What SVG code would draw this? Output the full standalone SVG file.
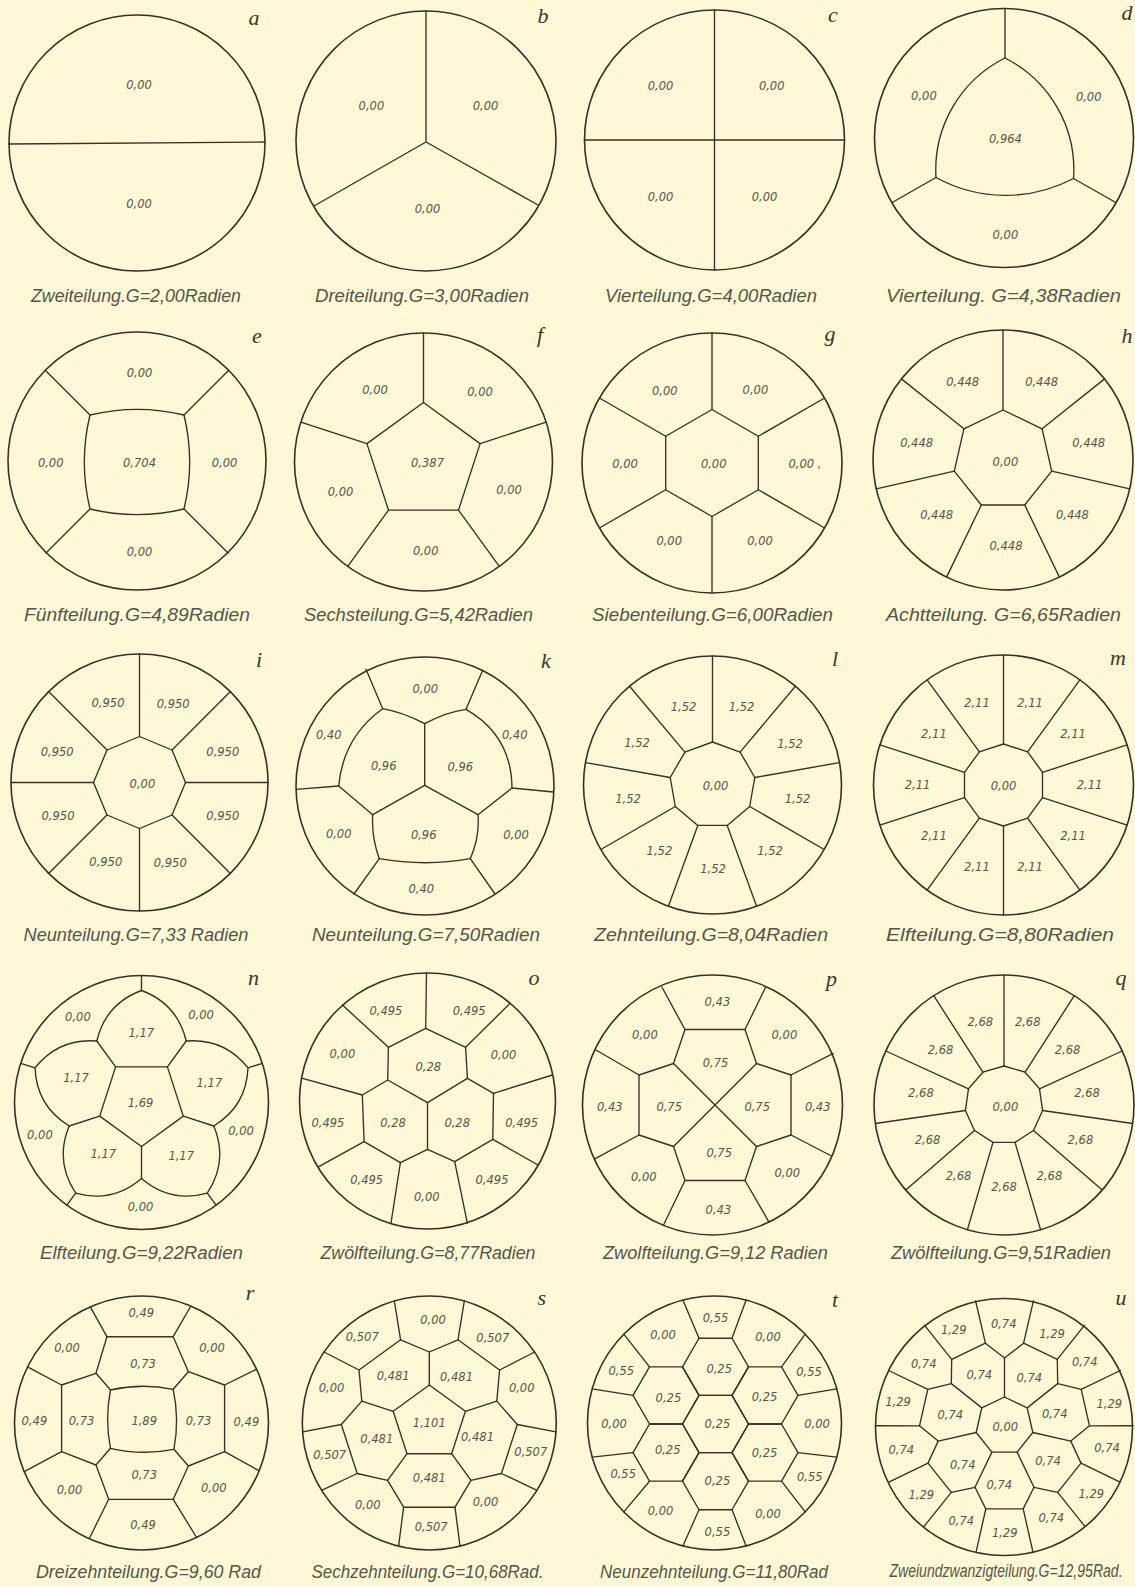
<svg xmlns="http://www.w3.org/2000/svg" width="1135" height="1587" viewBox="0 0 1135 1587">
<style>
.bg{fill:#fcf8d5}
.c{fill:none;stroke:#35312b;stroke-width:1.6}
.l{fill:none;stroke:#35312b;stroke-width:1.35;stroke-linejoin:round;stroke-linecap:round}
.n{font-family:"DejaVu Sans","Liberation Sans",sans-serif;font-style:italic;font-size:11.5px;fill:#5a564d;text-anchor:middle;dominant-baseline:central}
.cap{font-family:"Liberation Sans","DejaVu Sans",sans-serif;font-style:italic;font-size:19px;fill:#58544b;text-anchor:middle}
.let{font-family:"Liberation Serif","DejaVu Serif",serif;font-style:italic;font-size:22px;fill:#3a362f;text-anchor:middle}
</style>
<defs><polygon id="hex" points="33,0 16.5,28.58 -16.5,28.58 -33,0 -16.5,-28.58 16.5,-28.58"/></defs>
<rect class="bg" x="0" y="0" width="1135" height="1587"/>

<g id="fig-a">
<g transform="translate(137,143)"><circle class="c" r="128"/><path class="l" d="M-128,1 L128,-1"/></g>
<text class="n" x="139" y="85">0,00</text><text class="n" x="139" y="204">0,00</text>
<text class="let" x="254" y="25">a</text>
<text class="cap" x="136" y="302" textLength="210" lengthAdjust="spacingAndGlyphs">Zweiteilung.G=2,00Radien</text>
</g>

<g id="fig-b">
<g transform="translate(426,141)"><circle class="c" r="130"/><path class="l" d="M0,1 V-130 M0,1 L-112,65 M0,1 L112,64"/></g>
<text class="n" x="371.4" y="106">0,00</text><text class="n" x="485.5" y="106">0,00</text><text class="n" x="427.5" y="209">0,00</text>
<text class="let" x="543" y="22.5">b</text>
<text class="cap" x="422" y="302" textLength="214" lengthAdjust="spacingAndGlyphs">Dreiteilung.G=3,00Radien</text>
</g>

<g id="fig-c">
<g transform="translate(714.5,140)"><circle class="c" r="130"/><path class="l" d="M0,-130 V130 M-130,0 H130"/></g>
<text class="n" x="660.5" y="86">0,00</text><text class="n" x="771.7" y="86">0,00</text><text class="n" x="660.5" y="196.7">0,00</text><text class="n" x="764.5" y="197.3">0,00</text>
<text class="let" x="833" y="22">c</text>
<text class="cap" x="711" y="302" textLength="212" lengthAdjust="spacingAndGlyphs">Vierteilung.G=4,00Radien</text>
</g>

<g id="fig-d">
<g transform="translate(1004,138)"><circle class="c" r="129.5"/>
<path class="l" d="M1,-80 A125,125 0 0 0 -68,39.5 A145,145 0 0 0 69.5,40.5 A125,125 0 0 0 1,-80 Z"/>
<path class="l" d="M1,-80 V-129.5 M-68,39.5 L-112.2,64.75 M69.5,40.5 L112.2,64.75"/></g>
<text class="n" x="923.9" y="96">0,00</text><text class="n" x="1088.7" y="96.7">0,00</text><text class="n" x="1005.4" y="139.3">0,964</text><text class="n" x="1005.4" y="235">0,00</text>
<text class="let" x="1127" y="19.5">d</text>
<text class="cap" x="1003.5" y="302" textLength="235" lengthAdjust="spacingAndGlyphs">Vierteilung. G=4,38Radien</text>
</g>

<g id="fig-e">
<g transform="translate(137,461)"><circle class="c" r="129"/>
<path class="l" d="M-47,-46 A200,200 0 0 1 47,-46 A200,200 0 0 1 47,48 A200,200 0 0 1 -47,48 A200,200 0 0 1 -47,-46 Z"/>
<path class="l" d="M-47,-46 L-91.5,-90.5 M47,-46 L91.5,-90.5 M47,48 L91,92 M-47,48 L-91,92"/></g>
<text class="n" x="139.5" y="372.7">0,00</text><text class="n" x="50.7" y="463.3">0,00</text><text class="n" x="139.5" y="463.3">0,704</text><text class="n" x="224.6" y="463.3">0,00</text><text class="n" x="139.5" y="552.3">0,00</text>
<text class="let" x="257" y="343">e</text>
<text class="cap" x="137" y="621" textLength="226" lengthAdjust="spacingAndGlyphs">Fünfteilung.G=4,89Radien</text>
</g>

<g id="fig-f">
<g transform="translate(423.5,462)"><circle class="c" r="129"/>
<path class="l" d="M0,-59.5 L56.6,-18.4 L35,48.1 L-35,48.1 L-56.6,-18.4 Z"/>
<path class="l" d="M0,-59.5 V-129 M56.6,-18.4 L122.7,-39.9 M35,48.1 L75.8,104.4 M-35,48.1 L-75.8,104.4 M-56.6,-18.4 L-122.7,-39.9"/></g>
<text class="n" x="375" y="390">0,00</text><text class="n" x="480" y="391.7">0,00</text><text class="n" x="427.5" y="463.3">0,387</text><text class="n" x="340.6" y="491.7">0,00</text><text class="n" x="509" y="490">0,00</text><text class="n" x="425.7" y="550.7">0,00</text>
<text class="let" x="540" y="342">f</text>
<text class="cap" x="418.5" y="621" textLength="229" lengthAdjust="spacingAndGlyphs">Sechsteilung.G=5,42Radien</text>
</g>

<g id="fig-g">
<g transform="translate(712,463)"><circle class="c" r="130"/>
<path class="l" d="M0,-53.5 L46.3,-26.75 L46.3,26.75 L0,53.5 L-46.3,26.75 L-46.3,-26.75 Z"/>
<path class="l" d="M0,-53.5 V-130 M46.3,-26.75 L112.6,-65 M46.3,26.75 L112.6,65 M0,53.5 V130 M-46.3,26.75 L-112.6,65 M-46.3,-26.75 L-112.6,-65"/></g>
<text class="n" x="664.8" y="390.7">0,00</text><text class="n" x="755.4" y="390">0,00</text><text class="n" x="625" y="464">0,00</text><text class="n" x="713.7" y="464">0,00</text><text class="n" x="805" y="464">0,00 ,</text><text class="n" x="669.2" y="540.7">0,00</text><text class="n" x="760" y="540.7">0,00</text>
<text class="let" x="830" y="340.5">g</text>
<text class="cap" x="712.5" y="621" textLength="241" lengthAdjust="spacingAndGlyphs">Siebenteilung.G=6,00Radien</text>
</g>

<g id="fig-h">
<g transform="translate(1003,460)"><circle class="c" r="130"/>
<path class="l" d="M0,-50 L39.1,-31.2 L48.7,11.1 L21.7,45 L-21.7,45 L-48.7,11.1 L-39.1,-31.2 Z"/>
<path class="l" d="M0,-50 V-130 M39.1,-31.2 L101.6,-81.1 M48.7,11.1 L126.7,28.9 M21.7,45 L56.4,117.1 M-21.7,45 L-56.4,117.1 M-48.7,11.1 L-126.7,28.9 M-39.1,-31.2 L-101.6,-81.1"/></g>
<text class="n" x="962.7" y="381.7">0,448</text><text class="n" x="1041.6" y="381.7">0,448</text><text class="n" x="916.6" y="443.3">0,448</text><text class="n" x="1088.7" y="442.7">0,448</text><text class="n" x="1005.4" y="461.7">0,00</text><text class="n" x="936.6" y="515">0,448</text><text class="n" x="1072.4" y="515">0,448</text><text class="n" x="1006" y="546">0,448</text>
<text class="let" x="1127" y="342.5">h</text>
<text class="cap" x="1003.5" y="621" textLength="235" lengthAdjust="spacingAndGlyphs">Achtteilung. G=6,65Radien</text>
</g>

<g id="fig-i">
<g transform="translate(139.5,782.5)"><circle class="c" r="128.5"/>
<path class="l" d="M46,0 L32.5,32.5 L0,46 L-32.5,32.5 L-46,0 L-32.5,-32.5 L0,-46 L32.5,-32.5 Z"/>
<path class="l" d="M46,0 H128.5 M32.5,32.5 L90.9,90.9 M0,46 V128.5 M-32.5,32.5 L-90.9,90.9 M-46,0 H-128.5 M-32.5,-32.5 L-90.9,-90.9 M0,-46 V-128.5 M32.5,-32.5 L90.9,-90.9"/></g>
<text class="n" x="108" y="703.3">0,950</text><text class="n" x="173.2" y="704">0,950</text><text class="n" x="57.2" y="751.7">0,950</text><text class="n" x="222.8" y="751.7">0,950</text><text class="n" x="142.4" y="784">0,00</text><text class="n" x="58" y="815.7">0,950</text><text class="n" x="222.8" y="815.7">0,950</text><text class="n" x="105.8" y="861.7">0,950</text><text class="n" x="170.3" y="862.7">0,950</text>
<text class="let" x="259" y="667">i</text>
<text class="cap" x="136" y="941" textLength="225" lengthAdjust="spacingAndGlyphs">Neunteilung.G=7,33 Radien</text>
</g>

<g id="fig-k">
<circle class="c" cx="425" cy="786" r="129"/>
<path class="l" d="M424.7,785.3 V723.7 M424.7,785.3 L372.7,814.7 M424.7,785.3 L478,814.7"/>
<path class="l" d="M382.7,708.7 Q402,712 424.7,723.7 Q446,712 466,709.3"/>
<path class="l" d="M382.7,708.7 Q343.3,736.7 338.7,786 L372.7,814.7 Q371.4,837.3 379.3,858.7 Q425.8,866.7 470.3,858.7 Q479.8,837.3 478,814.7 L512,788 Q511.6,735.3 466,709.3"/>
<path class="l" d="M382.7,708.7 L366,669.3 M466,709.3 L482.7,670.3 M338.7,786 L296,789.3 M512,788 L553.5,792 M379.3,858.7 L354,894 M470.3,858.7 L495,894"/>
<text class="n" x="425.3" y="689.3">0,00</text><text class="n" x="328.7" y="734.7">0,40</text><text class="n" x="514.7" y="735.3">0,40</text><text class="n" x="383.7" y="766">0,96</text><text class="n" x="460.3" y="767">0,96</text><text class="n" x="338.7" y="833.7">0,00</text><text class="n" x="423.7" y="834.7">0,96</text><text class="n" x="516" y="834.7">0,00</text><text class="n" x="421.3" y="889.3">0,40</text>
<text class="let" x="546" y="667.5">k</text>
<text class="cap" x="426" y="941" textLength="228" lengthAdjust="spacingAndGlyphs">Neunteilung.G=7,50Radien</text>
</g>

<g id="fig-l">
<g transform="translate(712.5,785)"><circle class="c" r="129"/>
<path class="l" d="M0,-43 L27.6,-32.9 L42.3,-7.5 L37.2,21.5 L14.7,40.4 L-14.7,40.4 L-37.2,21.5 L-42.3,-7.5 L-27.6,-32.9 Z"/>
<path class="l" d="M0,-43 V-129 M27.6,-32.9 L82.9,-98.8 M42.3,-7.5 L127,-22.4 M37.2,21.5 L111.7,64.5 M14.7,40.4 L44.1,121.2 M-14.7,40.4 L-44.1,121.2 M-37.2,21.5 L-111.7,64.5 M-42.3,-7.5 L-127,-22.4 M-27.6,-32.9 L-82.9,-98.8"/></g>
<text class="n" x="683.5" y="706.5">1,52</text><text class="n" x="741.5" y="706.5">1,52</text><text class="n" x="637" y="743.3">1,52</text><text class="n" x="790" y="744">1,52</text><text class="n" x="628" y="799.3">1,52</text><text class="n" x="797.5" y="798.5">1,52</text><text class="n" x="659.4" y="851">1,52</text><text class="n" x="770" y="851">1,52</text><text class="n" x="713" y="869.3">1,52</text><text class="n" x="715.6" y="785.7">0,00</text>
<text class="let" x="835" y="665.5">l</text>
<text class="cap" x="711" y="941" textLength="234" lengthAdjust="spacingAndGlyphs">Zehnteilung.G=8,04Radien</text>
</g>

<g id="fig-m">
<g transform="translate(1003.5,785)"><circle class="c" r="130"/>
<path class="l" d="M0,-41 L24.1,-33.2 L39,-12.7 L39,12.7 L24.1,33.2 L0,41 L-24.1,33.2 L-39,12.7 L-39,-12.7 L-24.1,-33.2 Z"/>
<path class="l" d="M0,-41 V-130 M24.1,-33.2 L76.4,-105.2 M39,-12.7 L123.6,-40.2 M39,12.7 L123.6,40.2 M24.1,33.2 L76.4,105.2 M0,41 V130 M-24.1,33.2 L-76.4,105.2 M-39,12.7 L-123.6,40.2 M-39,-12.7 L-123.6,-40.2 M-24.1,-33.2 L-76.4,-105.2"/></g>
<text class="n" x="1030.1" y="703.2">2,11</text><text class="n" x="1073.1" y="734.4">2,11</text><text class="n" x="1089.5" y="785">2,11</text><text class="n" x="1073.1" y="835.6">2,11</text><text class="n" x="1030.1" y="866.8">2,11</text><text class="n" x="976.9" y="866.8">2,11</text><text class="n" x="933.9" y="835.6">2,11</text><text class="n" x="917.5" y="785">2,11</text><text class="n" x="933.9" y="734.4">2,11</text><text class="n" x="976.9" y="703.2">2,11</text><text class="n" x="1003.5" y="786">0,00</text>
<text class="let" x="1118" y="665">m</text>
<text class="cap" x="1000" y="941" textLength="228" lengthAdjust="spacingAndGlyphs">Elfteilung.G=8,80Radien</text>
</g>

<g id="fig-n">
<g transform="translate(141.5,1102.5)"><circle class="c" r="127"/>
<path class="l" d="M-25.9,-35.6 L25.9,-35.6 L41.8,13.6 L0,44 L-41.8,13.6 Z"/>
<path class="l" d="M-25.9,-35.6 L-44.7,-61.5 M25.9,-35.6 L44.7,-61.5 M41.8,13.6 L72.3,23.5 M0,44 V76 M-41.8,13.6 L-72.3,23.5"/>
<path class="l" d="M0,-112 Q35.9,-98.7 44.7,-61.5 Q82.7,-64.6 106.5,-34.6 Q104.9,3.7 72.3,23.5 Q87,58.7 65.8,90.6 Q28.9,100.9 0,76 Q-28.9,100.9 -65.8,90.6 Q-87,58.7 -72.3,23.5 Q-104.9,3.7 -106.5,-34.6 Q-82.7,-64.6 -44.7,-61.5 Q-35.9,-98.7 0,-112 Z"/>
<path class="l" d="M0,-112 V-127 M106.5,-34.6 L120.8,-39.2 M65.8,90.6 L74.6,102.7 M-65.8,90.6 L-74.6,102.7 M-106.5,-34.6 L-120.8,-39.2"/></g>
<text class="n" x="77.9" y="1017.3">0,00</text><text class="n" x="201" y="1015">0,00</text><text class="n" x="141.3" y="1033.3">1,17</text><text class="n" x="76" y="1078.3">1,17</text><text class="n" x="209.4" y="1082.7">1,17</text><text class="n" x="140.6" y="1102.7">1,69</text><text class="n" x="39.9" y="1135">0,00</text><text class="n" x="241" y="1130.7">0,00</text><text class="n" x="103.3" y="1154">1,17</text><text class="n" x="181.2" y="1156">1,17</text><text class="n" x="140.6" y="1207.3">0,00</text>
<text class="let" x="253.6" y="985">n</text>
<text class="cap" x="141.5" y="1259" textLength="203" lengthAdjust="spacingAndGlyphs">Elfteilung.G=9,22Radien</text>
</g>

<g id="fig-o">
<circle class="c" cx="427.5" cy="1101" r="128"/>
<path class="l" d="M427.5,1102.7 L387.7,1080 M427.5,1102.7 L467.4,1078.3 M427.5,1102.7 L427.5,1149.3"/>
<path class="l" d="M387.7,1080 L388.4,1047.3 L425.7,1028.3 L465.6,1047.3 L467.4,1078.3 L493.5,1093.3 L492.8,1139.3 L454.7,1161.7 L427.5,1149.3 L400.4,1162.7 L364.1,1141.7 L362.3,1095 Z"/>
<path class="l" d="M425.7,1028.3 L426.5,973 M388.4,1047.3 L342.4,1005 M465.6,1047.3 L510.1,1003.3 M362.3,1095 L302.5,1078.3 M493.5,1093.3 L552.5,1075 M364.1,1141.7 L318.8,1166.7 M492.8,1139.3 L538,1165 M400.4,1162.7 L391,1223 M454.7,1161.7 L467.4,1223.3"/>
<text class="n" x="385.9" y="1010.7">0,495</text><text class="n" x="469.2" y="1010.7">0,495</text><text class="n" x="342.4" y="1054">0,00</text><text class="n" x="428.3" y="1066.7">0,28</text><text class="n" x="503.6" y="1055">0,00</text><text class="n" x="327.9" y="1123.3">0,495</text><text class="n" x="393.1" y="1123.3">0,28</text><text class="n" x="457.2" y="1123.3">0,28</text><text class="n" x="521.7" y="1123.3">0,495</text><text class="n" x="366.7" y="1180">0,495</text><text class="n" x="426.8" y="1197.3">0,00</text><text class="n" x="492" y="1180">0,495</text>
<text class="let" x="534" y="985">o</text>
<text class="cap" x="428" y="1259" textLength="215" lengthAdjust="spacingAndGlyphs">Zwölfteilung.G=8,77Radien</text>
</g>

<g id="fig-p">
<circle class="c" cx="712.5" cy="1105" r="130"/>
<path class="l" d="M685,1029.5 L745,1029.5 L756.5,1063.5 L791,1075 L791,1135 L756.5,1146.5 L745,1180.5 L685,1180.5 L673.5,1146.5 L639,1135 L639,1075 L673.5,1063.5 Z"/>
<path class="l" d="M673.5,1063.5 L756.5,1146.5 M756.5,1063.5 L673.5,1146.5"/>
<path class="l" d="M685,1029.5 L662,987.3 M745,1029.5 L765.6,987.3 M639,1075 L596,1050 M639,1135 L594.3,1159.1 M791,1075 L833.3,1053.3 M791,1135 L831.5,1156 M685,1180.5 L663.4,1225.2 M745,1180.5 L769,1222.1"/>
<text class="n" x="717.4" y="1001.7">0,43</text><text class="n" x="644.9" y="1035">0,00</text><text class="n" x="784.4" y="1035">0,00</text><text class="n" x="715.6" y="1063.3">0,75</text><text class="n" x="609.8" y="1106.7">0,43</text><text class="n" x="669.2" y="1106.7">0,75</text><text class="n" x="757.2" y="1106.7">0,75</text><text class="n" x="817.7" y="1107.3">0,43</text><text class="n" x="719.2" y="1152.7">0,75</text><text class="n" x="643.8" y="1177.3">0,00</text><text class="n" x="787.3" y="1173.3">0,00</text><text class="n" x="718.4" y="1210">0,43</text>
<text class="let" x="831.5" y="985.5">p</text>
<text class="cap" x="715.5" y="1259" textLength="225" lengthAdjust="spacingAndGlyphs">Zwolfteilung.G=9,12 Radien</text>
</g>

<g id="fig-q">
<g transform="translate(1004,1105)"><circle class="c" r="130"/>
<path class="l" d="M0,-39 L21.1,-32.8 L35.5,-16.2 L38.6,5.5 L29.5,25.5 L11,37.4 L-11,37.4 L-29.5,25.5 L-38.6,5.5 L-35.5,-16.2 L-21.1,-32.8 Z"/>
<path class="l" d="M0,-39 V-130 M21.1,-32.8 L70.3,-109.4 M35.5,-16.2 L118.2,-54 M38.6,5.5 L128.7,18.5 M29.5,25.5 L98.2,85.1 M11,37.4 L36.6,124.7 M-11,37.4 L-36.6,124.7 M-29.5,25.5 L-98.2,85.1 M-38.6,5.5 L-128.7,18.5 M-35.5,-16.2 L-118.2,-54 M-21.1,-32.8 L-70.3,-109.4"/></g>
<text class="n" x="1027.7" y="1022">2,68</text><text class="n" x="1067.5" y="1050">2,68</text><text class="n" x="1087.1" y="1093">2,68</text><text class="n" x="1080.4" y="1139.9">2,68</text><text class="n" x="1049.4" y="1175.7">2,68</text><text class="n" x="1004" y="1187">2,68</text><text class="n" x="958.6" y="1175.7">2,68</text><text class="n" x="927.6" y="1139.9">2,68</text><text class="n" x="920.9" y="1093">2,68</text><text class="n" x="940.5" y="1050">2,68</text><text class="n" x="980.3" y="1022">2,68</text><text class="n" x="1005.4" y="1106.7">0,00</text>
<text class="let" x="1121" y="984.5">q</text>
<text class="cap" x="1001" y="1259" textLength="220" lengthAdjust="spacingAndGlyphs">Zwölfteilung.G=9,51Radien</text>
</g>

<g id="fig-r">
<circle class="c" cx="141.5" cy="1423" r="127"/>
<path class="l" d="M110.5,1390 A150,150 0 0 1 173.2,1389.3 A150,150 0 0 1 173.9,1449.3 A150,150 0 0 1 110.5,1448.3 A150,150 0 0 1 110.5,1390 Z"/>
<path class="l" d="M106.9,1336.7 L173.2,1336.7 L188.4,1371.7 L224.6,1385 L224.6,1451.7 L188.4,1466 L173.2,1499.3 L108.7,1499.3 L96,1465 L61.6,1451.7 L61.6,1385 L96,1373.3 Z"/>
<path class="l" d="M96,1373.3 L110.5,1390 M188.4,1371.7 L173.2,1389.3 M96,1465 L110.5,1448.3 M188.4,1466 L173.9,1449.3"/>
<path class="l" d="M106.9,1336.7 L90.3,1306.8 M173.2,1336.7 L190.9,1306 M61.6,1385 L27.5,1366.9 M61.6,1451.7 L24.2,1471.7 M224.6,1385 L256.6,1369.3 M224.6,1451.7 L259.2,1470.8 M108.7,1499.3 L89.2,1538.7 M173.2,1499.3 L196.6,1537.5"/>
<text class="n" x="141.3" y="1312.7">0,49</text><text class="n" x="67" y="1348.3">0,00</text><text class="n" x="212" y="1348.3">0,00</text><text class="n" x="143.1" y="1364">0,73</text><text class="n" x="34.4" y="1420.7">0,49</text><text class="n" x="81.5" y="1420.7">0,73</text><text class="n" x="144.2" y="1420.7">1,89</text><text class="n" x="198.6" y="1420.7">0,73</text><text class="n" x="246.4" y="1421.7">0,49</text><text class="n" x="144.2" y="1475">0,73</text><text class="n" x="69.6" y="1490">0,00</text><text class="n" x="213.8" y="1488.3">0,00</text><text class="n" x="143.1" y="1525">0,49</text>
<text class="let" x="250" y="1300">r</text>
<text class="cap" x="148.5" y="1578" textLength="225" lengthAdjust="spacingAndGlyphs">Dreizehnteilung.G=9,60 Rad</text>
</g>

<g id="fig-s">
<g transform="translate(429.3,1423)"><circle class="c" r="127"/>
<path class="l" d="M0,-38 L36.1,-11.7 L22.3,30.7 L-22.3,30.7 L-36.1,-11.7 Z"/>
<path class="l" d="M0,-38 V-71 M36.1,-11.7 L67.5,-21.9 M22.3,30.7 L41.7,57.4 M-22.3,30.7 L-41.7,57.4 M-36.1,-11.7 L-67.5,-21.9"/>
<path class="l" d="M0,-71 L28.7,-83.2 L70.3,-53 L67.5,-21.9 L88,1.5 L72.1,50.5 L41.7,57.4 L25.7,84.2 L-25.7,84.2 L-41.7,57.4 L-72.1,50.5 L-88,1.5 L-67.5,-21.9 L-70.3,-53 L-28.7,-83.2 Z"/>
<path class="l" d="M-70.3,-53 L-105.3,-71 M-28.7,-83.2 L-35,-122.1 M28.7,-83.2 L35,-122.1 M70.3,-53 L105.3,-71 M88,1.5 L126.7,8.9 M72.1,50.5 L107.7,67.3 M25.7,84.2 L30.7,123.2 M-25.7,84.2 L-30.7,123.2 M-72.1,50.5 L-107.7,67.3 M-88,1.5 L-126.7,8.9"/></g>
<text class="n" x="433" y="1320">0,00</text><text class="n" x="362.3" y="1336.7">0,507</text><text class="n" x="492.8" y="1338.3">0,507</text><text class="n" x="393.1" y="1376">0,481</text><text class="n" x="456.5" y="1377.3">0,481</text><text class="n" x="331.5" y="1388.3">0,00</text><text class="n" x="521.7" y="1388.3">0,00</text><text class="n" x="429.3" y="1422.7">1,101</text><text class="n" x="376.8" y="1439.3">0,481</text><text class="n" x="477.5" y="1437.3">0,481</text><text class="n" x="329.7" y="1455">0,507</text><text class="n" x="530.8" y="1451.7">0,507</text><text class="n" x="429.3" y="1478.3">0,481</text><text class="n" x="367.8" y="1505">0,00</text><text class="n" x="485.5" y="1501.7">0,00</text><text class="n" x="431.2" y="1526.7">0,507</text>
<text class="let" x="541.7" y="1305">s</text>
<text class="cap" x="427.5" y="1578" textLength="232" lengthAdjust="spacingAndGlyphs">Sechzehnteilung.G=10,68Rad.</text>
</g>

<g id="fig-t">
<circle class="c" cx="714.5" cy="1423" r="127"/>
<use href="#hex" class="l" x="715.5" y="1424"/>
<use href="#hex" class="l" x="715.5" y="1366.84"/>
<use href="#hex" class="l" x="765" y="1395.42"/>
<use href="#hex" class="l" x="765" y="1452.58"/>
<use href="#hex" class="l" x="715.5" y="1481.16"/>
<use href="#hex" class="l" x="666" y="1452.58"/>
<use href="#hex" class="l" x="666" y="1395.42"/>
<path class="l" d="M699,1338.3 L682.9,1300 M732,1338.3 L746.1,1300 M781.5,1366.8 L805.2,1334.1 M798,1395.4 L836.8,1388.8 M798,1452.6 L836.8,1457.2 M781.5,1481.2 L805.2,1511.9 M732,1509.7 L746.1,1546 M699,1509.7 L682.9,1546 M649.5,1481.2 L623.8,1511.9 M633,1452.6 L592.2,1457.2 M633,1395.4 L592.2,1388.8 M649.5,1366.8 L623.8,1334.1"/>
<text class="n" x="715.5" y="1317.7">0,55</text><text class="n" x="663" y="1335">0,00</text><text class="n" x="768" y="1336.7">0,00</text><text class="n" x="621.3" y="1370.7">0,55</text><text class="n" x="719.2" y="1369">0,25</text><text class="n" x="809" y="1371.7">0,55</text><text class="n" x="668.4" y="1397.7">0,25</text><text class="n" x="764.5" y="1397.3">0,25</text><text class="n" x="614.1" y="1424">0,00</text><text class="n" x="717.4" y="1424">0,25</text><text class="n" x="817" y="1424">0,00</text><text class="n" x="667.7" y="1450">0,25</text><text class="n" x="764.5" y="1452.7">0,25</text><text class="n" x="623.2" y="1474">0,55</text><text class="n" x="717.4" y="1480.7">0,25</text><text class="n" x="809.8" y="1476.7">0,55</text><text class="n" x="660.5" y="1510.7">0,00</text><text class="n" x="768" y="1514">0,00</text><text class="n" x="717.4" y="1531.7">0,55</text>
<text class="let" x="835" y="1306.5">t</text>
<text class="cap" x="714" y="1578" textLength="228" lengthAdjust="spacingAndGlyphs">Neunzehnteilung.G=11,80Rad</text>
</g>

<g id="fig-u">
<g transform="translate(1004.5,1426)"><circle class="c" cx="-0.5" cy="1" r="128.5"/>
<path class="l" d="M0,-29 L22.7,-18.1 L28.3,6.5 L12.6,26.1 L-12.6,26.1 L-28.3,6.5 L-22.7,-18.1 Z"/>
<path class="l" d="M0,-29 V-68 M22.7,-18.1 L53.2,-42.4 M28.3,6.5 L66.3,15.1 M12.6,26.1 L29.5,61.3 M-12.6,26.1 L-29.5,61.3 M-28.3,6.5 L-66.3,15.1 M-22.7,-18.1 L-53.2,-42.4"/>
<path class="l" d="M0,-68 L19.1,-82.8 L52.8,-66.6 L53.2,-42.4 L76.7,-36.7 L85,-0.2 L66.3,15.1 L76.5,37.1 L53.2,66.3 L29.5,61.3 L18.7,82.9 L-18.7,82.9 L-29.5,61.3 L-53.2,66.3 L-76.5,37.1 L-66.3,15.1 L-85,-0.2 L-76.7,-36.7 L-53.2,-42.4 L-52.8,-66.6 L-19.1,-82.8 Z"/>
<path class="l" d="M-19.1,-82.8 L-28.9,-125.2 M19.1,-82.8 L28.9,-125.2 M52.8,-66.6 L79.9,-100.7 M76.7,-36.7 L115.9,-55.5 M85,-0.2 L128.5,-0.3 M76.5,37.1 L115.6,56.1 M53.2,66.3 L80.4,100.3 M18.7,82.9 L28.3,125.4 M-18.7,82.9 L-28.3,125.4 M-53.2,66.3 L-80.4,100.3 M-76.5,37.1 L-115.6,56.1 M-85,-0.2 L-128.5,-0.3 M-76.7,-36.7 L-115.9,-55.5 M-52.8,-66.6 L-79.9,-100.7"/></g>
<text class="n" x="953.7" y="1330.3">1,29</text><text class="n" x="1003.7" y="1323.7">0,74</text><text class="n" x="1052" y="1333.7">1,29</text><text class="n" x="923.7" y="1363.7">0,74</text><text class="n" x="979.3" y="1375.3">0,74</text><text class="n" x="1029.3" y="1378">0,74</text><text class="n" x="1084.7" y="1362">0,74</text><text class="n" x="898" y="1402">1,29</text><text class="n" x="950.3" y="1415.3">0,74</text><text class="n" x="1005.3" y="1427">0,00</text><text class="n" x="1054.7" y="1413.7">0,74</text><text class="n" x="1109.3" y="1403.7">1,29</text><text class="n" x="901.3" y="1450.3">0,74</text><text class="n" x="962.7" y="1464.7">0,74</text><text class="n" x="1048" y="1461.3">0,74</text><text class="n" x="1107" y="1448">0,74</text><text class="n" x="921.3" y="1494.7">1,29</text><text class="n" x="999.3" y="1484.7">0,74</text><text class="n" x="1091.3" y="1493.7">1,29</text><text class="n" x="961.3" y="1521.3">0,74</text><text class="n" x="1004.7" y="1532.7">1,29</text><text class="n" x="1051.3" y="1518">0,74</text>
<text class="let" x="1121" y="1305">u</text>
<text class="cap" transform="translate(1006,1577) scale(0.74,1)" x="0" y="0">Zweiundzwanzigteilung.G=12,95Rad.</text>
</g>
</svg>
